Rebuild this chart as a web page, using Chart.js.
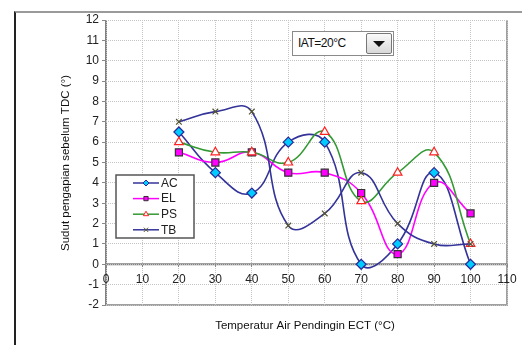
<!DOCTYPE html>
<html><head><meta charset="utf-8">
<script src="https://cdn.jsdelivr.net/npm/chart.js@4.4.0/dist/chart.umd.min.js"></script>
<style>
html,body{margin:0;padding:0;background:#fff;}
#wrap{position:relative;width:522px;height:345px;overflow:hidden;}
#frame{position:absolute;left:14px;top:11px;width:520px;height:340px;border-top:2px solid #9a9a9a;border-left:2px solid #222;}
canvas{position:absolute;left:0;top:0;}
#dd{position:absolute;left:292px;top:31px;width:100px;height:23px;border:1px solid #8a8a8a;background:#fff;font-family:"Liberation Sans",Arial,sans-serif;font-size:12px;letter-spacing:-0.5px;}
#dd span{position:absolute;left:5px;top:4px;color:#111;}
#btn{position:absolute;right:1px;top:1px;width:24px;height:19px;border:1px solid #777;border-radius:2px;background:linear-gradient(#fafafa,#d8d8d8);}
#btn:after{content:"";position:absolute;left:6px;top:7px;border-left:6px solid transparent;border-right:6px solid transparent;border-top:6px solid #111;}
</style></head>
<body><div id="wrap"><div id="frame"></div><canvas id="c" width="522" height="345"></canvas>
<div id="dd"><span>IAT=20°C</span><div id="btn"></div></div></div>
<script>
const categories = [20, 30, 40, 50, 60, 70, 80, 90, 100];
const seriesNames = ["AC", "EL", "PS", "TB"];
const acValues = [6.5, 4.5, 3.5, 6, 6, 0, 1, 4.5, 0];
const elValues = [5.5, 5, 5.5, 4.5, 4.5, 3.5, 0.5, 4, 2.5];
const psValues = [6, 5.5, 5.5, 5, 6.5, 3.1, 4.5, 5.5, 1];
const tbValues = [7, 7.5, 7.5, 1.9, 2.5, 4.5, 2, 1, 1];
const xTicks = [0, 10, 20, 30, 40, 50, 60, 70, 80, 90, 100, 110];
const yTicks = [-2, -1, 0, 1, 2, 3, 4, 5, 6, 7, 8, 9, 10, 11, 12];
const xTitle = "Temperatur Air Pendingin ECT (°C)";
const yTitle = "Sudut pengapian sebelum TDC (°)";

const pts = vals => categories.map((x, i) => ({x: x, y: vals[i]}));
const FONT = '"Liberation Sans", Arial, sans-serif';

const styles = [
  {line:'#333399', pointStyle:'rectRot', bg:'#00ccff', bd:'#2a2a99', r:5},
  {line:'#ff00ff', pointStyle:'rect', bg:'#ff00ff', bd:'#333', r:5},
  {line:'#339933', pointStyle:'triangle', bg:'#ffffff', bd:'#ff2020', r:5},
  {line:'#333399', pointStyle:'crossRot', bg:'#555533', bd:'#555533', r:4}
];
const allVals = [acValues, elValues, psValues, tbValues];
const datasets = seriesNames.map((n, i) => ({
  label: n, data: pts(allVals[i]),
  borderColor: styles[i].line, borderWidth: 1.6,
  pointStyle: styles[i].pointStyle, pointBackgroundColor: styles[i].bg,
  pointBorderColor: styles[i].bd, pointBorderWidth: 1.2, pointRadius: styles[i].r,
  tension: 0.45, fill: false, order: 4 - i
}));

const framePlugin = {
  id: 'framePlugin',
  beforeDraw(chart) {
    const {ctx, chartArea: a, scales} = chart;
    ctx.save();
    ctx.strokeStyle = '#a0a0a0'; ctx.lineWidth = 2;
    ctx.beginPath();
    ctx.moveTo(a.left, a.bottom); ctx.lineTo(a.right, a.bottom); ctx.lineTo(a.right, a.top);
    ctx.stroke();
    ctx.strokeStyle = '#808080'; ctx.lineWidth = 2;
    const y0 = scales.y.getPixelForValue(0);
    ctx.beginPath(); ctx.moveTo(a.left, y0); ctx.lineTo(a.right, y0); ctx.stroke();
    ctx.beginPath(); ctx.moveTo(a.left, a.top); ctx.lineTo(a.left, a.bottom); ctx.stroke();
    ctx.restore();
  },
  afterDraw(chart) {
    const {ctx} = chart;
    ctx.save();
    ctx.fillStyle = '#111';
    ctx.font = '11.5px ' + FONT;
    ctx.textAlign = 'center'; ctx.textBaseline = 'middle';
    ctx.fillText(xTitle, 305, 326);
    ctx.translate(66, 163); ctx.rotate(-Math.PI / 2);
    ctx.fillText(yTitle, 0, 0);
    ctx.restore();
    // legend
    ctx.save();
    ctx.fillStyle = '#fff'; ctx.strokeStyle = '#555'; ctx.lineWidth = 1.5;
    ctx.fillRect(116, 175, 78, 63); ctx.strokeRect(116, 175, 78, 63);
    chart.data.datasets.forEach((ds, i) => {
      const y = 183 + i * 15.6;
      ctx.strokeStyle = ds.borderColor; ctx.lineWidth = 1.5;
      ctx.beginPath(); ctx.moveTo(133, y); ctx.lineTo(159, y); ctx.stroke();
      ctx.fillStyle = ds.pointBackgroundColor; ctx.strokeStyle = ds.pointBorderColor; ctx.lineWidth = 1;
      Chart.helpers.drawPoint(ctx, {pointStyle: ds.pointStyle, radius: 3, rotation: 0, borderWidth: 1}, 146, y);
      ctx.fillStyle = '#222'; ctx.font = '12px ' + FONT; ctx.textAlign = 'left'; ctx.textBaseline = 'middle';
      ctx.fillText(ds.label, 161, y + 0.5);
    });
    ctx.restore();
  }
};

new Chart(document.getElementById('c'), {
  type: 'line',
  data: {datasets},
  options: {
    responsive: false, animation: false,
    layout: {padding: {left: 0, right: 15, top: 20, bottom: 40}},
    plugins: {legend: {display: false}, tooltip: {enabled: false}},
    scales: {
      x: {
        type: 'linear', position: {y: 0}, min: 0, max: 110,
        afterBuildTicks: s => { s.ticks = xTicks.map(v => ({value: v})); },
        grid: {color: '#c4c4c4', lineWidth: 1, drawTicks: true, tickLength: 3, tickColor: '#888'},
        border: {display: false, dash: [1, 1]},
        ticks: {color: '#222', font: {family: FONT, size: 12}, padding: 5, maxRotation: 0, autoSkip: false}
      },
      y: {
        type: 'linear', min: -2, max: 12,
        afterBuildTicks: s => { s.ticks = yTicks.map(v => ({value: v})); },
        afterFit: s => { s.width = 106; },
        grid: {color: '#c4c4c4', lineWidth: 1, drawTicks: true, tickLength: 4, tickColor: '#888'},
        border: {display: false, dash: [1, 1]},
        ticks: {color: '#222', font: {family: FONT, size: 12}, padding: 3, autoSkip: false}
      }
    }
  },
  plugins: [framePlugin]
});
</script></body></html>
